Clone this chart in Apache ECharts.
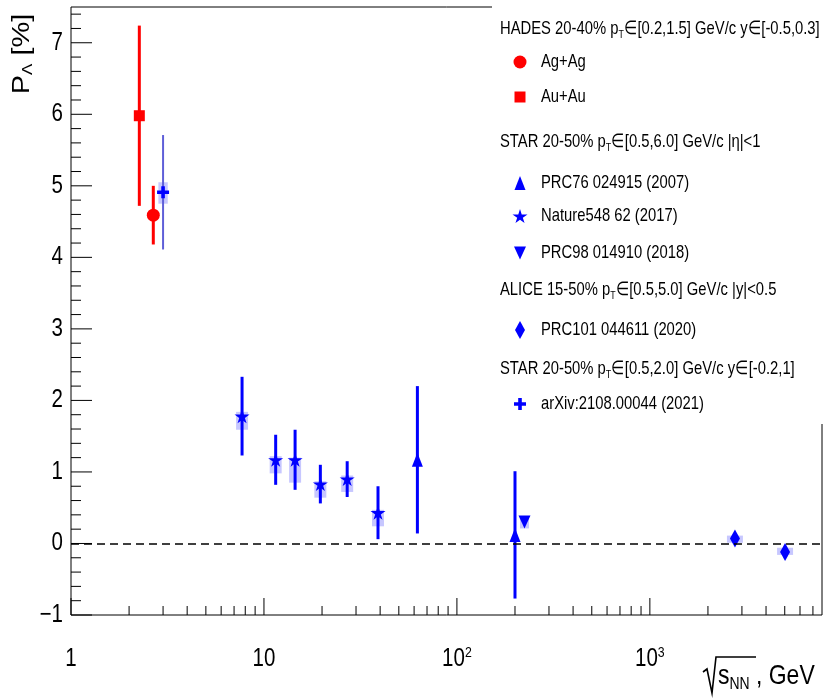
<!DOCTYPE html>
<html><head><meta charset="utf-8">
<script src="https://cdn.jsdelivr.net/npm/echarts@6/dist/echarts.min.js"></script>
<style>html,body{margin:0;padding:0;background:#fff}#c{width:823px;height:698px}</style>
</head><body><div id="c"></div>
<script>
const FONT = "'Liberation Sans',Arial,sans-serif";
const SQ = 0.82;   // horizontal squeeze of the reference typography
const SQL = 0.80;  // legend text squeeze

// ---- data ----
const hadesAgX = [2.67], hadesAgY = [4.59], hadesAgErr = [0.41];
const hadesAuX = [2.26], hadesAuY = [5.98], hadesAuErr = [1.26];
const prc76X = [62.4, 200], prc76Y = [1.17, 0.12], prc76Err = [1.03, 0.89];
const natureX = [7.7, 11.5, 14.5, 19.6, 27, 39];
const natureY = [1.78, 1.17, 1.17, 0.83, 0.90, 0.43];
const natureErr = [0.55, 0.35, 0.42, 0.27, 0.25, 0.37];
const natureSysUp = [0.06, 0.05, 0.03, 0.04, 0.05, 0.04];
const natureSysDown = [0.19, 0.19, 0.32, 0.19, 0.18, 0.19];
const prc98X = [224], prc98Y = [0.30], prc98Err = [0.02], prc98SysUp = [0.08], prc98SysDown = [0.09];
const aliceX = [2760, 5020], aliceY = [0.07, -0.12], aliceErr = [0.02, 0.02];
const aliceSysUp = [0.04, 0.06], aliceSysDown = [0.06, 0.04];
const arxivX = [3.0], arxivY = [4.91], arxivErr = [0.80], arxivSysUp = [0.14], arxivSysDown = [0.16];

// axis ranges / ticks
const X_MIN = 1, X_MAX = 7800, Y_MIN = -1, Y_MAX = 7.5;
const xMajorTicks = [1, 10, 100, 1000];
const xTickLabels = ['1', '10', '10{sup|2}', '10{sup|3}'];
const xMinorTicks = [];
xMajorTicks.forEach(d => { for (let k = 2; k <= 9; k++) { if (d * k < X_MAX) xMinorTicks.push(d * k); } });
const yMajorTicks = [-1, 0, 1, 2, 3, 4, 5, 6, 7];
const yTickLabels = ['\u22121', '0', '1', '2', '3', '4', '5', '6', '7'];
const yMinorTicks = [];
for (let i = 0; i < 43; i++) { const v = +(Y_MIN + i * 0.2).toFixed(1); if (v <= Y_MAX && Math.abs(v - Math.round(v)) > 1e-6) yMinorTicks.push(v); }

// symbol outlines (unit boxes)
const P_STAR = [[50,0],[61,35],[98,35],[68,57],[79,91],[50,70],[21,91],[32,57],[2,35],[39,35]];
const P_PLUS = [[35,0],[65,0],[65,35],[100,35],[100,65],[65,65],[65,100],[35,100],[35,65],[0,65],[0,35],[35,35]];
const P_TRI_UP = [[5,0],[10,10],[0,10]];
const P_TRI_DN = [[0,0],[10,0],[5,10]];
const P_DIAM = [[5,0],[10,10],[5,20],[0,10]];
const P_SQ = [[0,0],[10,0],[10,10],[0,10]];
function toPath(pts) { return 'path://M' + pts.map(p => p.join(',')).join(' L') + ' Z'; }
const BLUE = '#0000ff', RED = '#ff0000', SYS = 'rgba(0,0,255,0.22)';

function zip(xs, ys) { return xs.map((x, i) => [x, ys[i]]); }
function errData(xs, ys, es) { return xs.map((x, i) => [x, ys[i], es[i]]); }
function sysData(xs, ys, up, dn) { return xs.map((x, i) => [x, ys[i], up[i], dn[i]]); }

function errSeries(data, color, width) {
  return {
    type: 'custom', z: 3, data, encode: {x: 0, y: 1}, silent: true,
    renderItem: (p, api) => {
      const x = api.value(0), y = api.value(1), e = api.value(2);
      const a = api.coord([x, y + e]), b = api.coord([x, y - e]);
      return {type: 'line', shape: {x1: a[0], y1: a[1], x2: b[0], y2: b[1]}, style: {stroke: color, lineWidth: width}};
    }
  };
}
function sysSeries(data, halfW) {
  return {
    type: 'custom', z: 2, data, encode: {x: 0, y: 1}, silent: true,
    renderItem: (p, api) => {
      const x = api.value(0), y = api.value(1);
      const a = api.coord([x, y + api.value(2)]), b = api.coord([x, y - api.value(3)]);
      return {type: 'rect', shape: {x: a[0] - halfW, y: a[1], width: 2 * halfW, height: b[1] - a[1]}, style: {fill: SYS}};
    }
  };
}
function tickSeries(vals, axis, len) {
  return {
    type: 'custom', z: 5, silent: true, clip: false,
    data: vals.map(v => axis === 'x' ? [v, Y_MIN] : [X_MIN, v]), encode: {x: 0, y: 1},
    renderItem: (p, api) => {
      const c = api.coord([api.value(0), api.value(1)]);
      const shape = axis === 'x' ? {x1: c[0], y1: c[1], x2: c[0], y2: c[1] - len} : {x1: c[0], y1: c[1], x2: c[0] + len, y2: c[1]};
      return {type: 'line', shape, style: {stroke: '#000', lineWidth: 1}};
    }
  };
}
const supRich = {sup: {fontSize: 15, fontFamily: FONT, verticalAlign: 'top', padding: [0, 0, 12, 0]}};
function labelSeries(vals, labels, axis) {
  return {
    type: 'custom', z: 5, silent: true, clip: false,
    data: vals.map((v, i) => axis === 'x' ? [v, Y_MIN, i] : [X_MIN, v, i]), encode: {x: 0, y: 1},
    renderItem: (p, api) => {
      const c = api.coord([api.value(0), api.value(1)]);
      const t = labels[api.value(2)];
      if (axis === 'x') {
        return {type: 'text', x: c[0], y: c[1] + 44, scaleX: SQ,
          style: {text: t, fontFamily: FONT, fontSize: 25, fill: '#000', align: 'center', verticalAlign: 'middle', rich: supRich}};
      }
      return {type: 'text', x: c[0] - 8, y: c[1], scaleX: SQ,
        style: {text: t, fontFamily: FONT, fontSize: 25, fill: '#000', align: 'right', verticalAlign: 'middle'}};
    }
  };
}
function scatter(data, symbol, size, color) {
  return {type: 'scatter', z: 4, data, symbol, symbolSize: size, itemStyle: {color, opacity: 1}, silent: true};
}

// ---- legend built with graphic elements ----
const LX = 500, MX = 520, TX = 541;
const legendRows = [
  {y: 29, text: 'HADES 20-40% p{sub|T}∈[0.2,1.5] GeV/c y∈[-0.5,0.3]'},
  {y: 62, text: 'Ag+Ag', marker: 'circle', color: RED},
  {y: 97, text: 'Au+Au', marker: P_SQ, w: 11, h: 11, color: RED},
  {y: 142, text: 'STAR 20-50% p{sub|T}∈[0.5,6.0] GeV/c |η|<1'},
  {y: 183, text: 'PRC76 024915 (2007)', marker: P_TRI_UP, w: 11, h: 14, color: BLUE},
  {y: 216, text: 'Nature548 62 (2017)', marker: P_STAR, w: 15, h: 14, color: BLUE},
  {y: 253, text: 'PRC98 014910 (2018)', marker: P_TRI_DN, w: 12, h: 13, color: BLUE},
  {y: 290, text: 'ALICE 15-50% p{sub|T}∈[0.5,5.0] GeV/c |y|<0.5'},
  {y: 330, text: 'PRC101 044611 (2020)', marker: P_DIAM, w: 10, h: 18, color: BLUE},
  {y: 369, text: 'STAR 20-50% p{sub|T}∈[0.5,2.0] GeV/c y∈[-0.2,1]'},
  {y: 404, text: 'arXiv:2108.00044 (2021)', marker: P_PLUS, w: 12, h: 12, color: BLUE}
];
const subRich = {sub: {fontSize: 11, fontFamily: FONT, verticalAlign: 'bottom', padding: [12, 0, 0, 0]}};
function fitPoly(pts, cx, cy, w, h) {
  let x0 = Infinity, x1 = -Infinity, y0 = Infinity, y1 = -Infinity;
  pts.forEach(p => { x0 = Math.min(x0, p[0]); x1 = Math.max(x1, p[0]); y0 = Math.min(y0, p[1]); y1 = Math.max(y1, p[1]); });
  return pts.map(p => [cx - w / 2 + (p[0] - x0) / (x1 - x0) * w, cy - h / 2 + (p[1] - y0) / (y1 - y0) * h]);
}
const graphics = [];
// legend box (white, no border) drawn over the frame corner
graphics.push({type: 'rect', z: 50, shape: {x: 492, y: 0, width: 331, height: 424}, style: {fill: '#fff'}});
legendRows.forEach(r => {
  graphics.push({type: 'text', z: 51, x: r.marker ? TX : LX, y: r.y, scaleX: SQL,
    style: {text: r.text, fontFamily: FONT, fontSize: 18.5, fill: '#000', verticalAlign: 'middle', align: 'left', rich: subRich}});
  if (r.marker === 'circle') {
    graphics.push({type: 'circle', z: 51, shape: {cx: MX, cy: r.y, r: 6.5}, style: {fill: r.color}});
  } else if (r.marker) {
    graphics.push({type: 'polygon', z: 51, shape: {points: fitPoly(r.marker, MX, r.y, r.w, r.h)}, style: {fill: r.color}});
  }
});
// y axis title
graphics.push({type: 'text', x: 22, y: 54, rotation: Math.PI / 2, scaleY: SQ,
  style: {text: 'P{sub|Λ} [%]', fontFamily: FONT, fontSize: 29, fill: '#000', align: 'center', verticalAlign: 'middle',
    rich: {sub: {fontSize: 17, fontFamily: FONT, verticalAlign: 'bottom', padding: [14, 0, 0, 0]}}}});
// x axis title
graphics.push({type: 'polyline', shape: {points: [[703, 672], [707, 669], [712, 693], [716, 657], [756, 657]]}, style: {stroke: '#000', lineWidth: 1.6, fill: 'none'}});
graphics.push({type: 'text', x: 718, y: 676, scaleX: SQ,
  style: {text: 's{sub|NN} , GeV', fontFamily: FONT, fontSize: 28, fill: '#000', align: 'left', verticalAlign: 'middle',
    rich: {sub: {fontSize: 17, fontFamily: FONT, verticalAlign: 'bottom', padding: [16, 0, 0, 0]}}}});

const chart = echarts.init(document.getElementById('c'), null, {renderer: 'canvas'});
chart.setOption({
  backgroundColor: '#fff',
  animation: false,
  grid: {left: 71, right: 1, top: 7, bottom: 83, show: true, borderColor: '#000', borderWidth: 1, containLabel: false, outerBoundsMode: 'none'},
  xAxis: {
    type: 'log', logBase: 10, min: X_MIN, max: X_MAX,
    axisLine: {show: false}, axisTick: {show: false}, splitLine: {show: false}, minorTick: {show: false},
    axisLabel: {show: false}
  },
  yAxis: {
    type: 'value', min: Y_MIN, max: Y_MAX, interval: 1,
    axisLine: {show: false}, axisTick: {show: false}, splitLine: {show: false}, axisLabel: {show: false}
  },
  graphic: graphics,
  series: [
    {type: 'line', data: [], markLine: {silent: true, symbol: 'none', label: {show: false}, data: [{yAxis: 0}], lineStyle: {type: [8, 5], color: '#000', width: 1.5}}},
    tickSeries(xMajorTicks, 'x', 17), tickSeries(xMinorTicks, 'x', 9),
    tickSeries(yMajorTicks, 'y', 21), tickSeries(yMinorTicks, 'y', 10),
    labelSeries(xMajorTicks, xTickLabels, 'x'), labelSeries(yMajorTicks, yTickLabels, 'y'),
    sysSeries(sysData(natureX, natureY, natureSysUp, natureSysDown), 6),
    sysSeries(sysData(prc98X, prc98Y, prc98SysUp, prc98SysDown), 4.5),
    sysSeries(sysData(aliceX, aliceY, aliceSysUp, aliceSysDown), 8),
    sysSeries(sysData(arxivX, arxivY, arxivSysUp, arxivSysDown), 4.7),
    errSeries(errData(hadesAgX, hadesAgY, hadesAgErr), RED, 3),
    errSeries(errData(hadesAuX, hadesAuY, hadesAuErr), RED, 3),
    errSeries(errData(prc76X, prc76Y, prc76Err), BLUE, 3),
    errSeries(errData(natureX, natureY, natureErr), BLUE, 3),
    errSeries(errData(prc98X, prc98Y, prc98Err), BLUE, 3),
    errSeries(errData(aliceX, aliceY, aliceErr), BLUE, 3),
    errSeries(errData(arxivX, arxivY, arxivErr), '#5f5fd8', 2),
    scatter(zip(hadesAgX, hadesAgY), 'circle', 13, RED),
    scatter(zip(hadesAuX, hadesAuY), 'rect', 11, RED),
    scatter(zip(prc76X, prc76Y), toPath(P_TRI_UP), [11, 14], BLUE),
    scatter(zip(natureX, natureY), toPath(P_STAR), [15, 14], BLUE),
    scatter(zip(prc98X, prc98Y), toPath(P_TRI_DN), [12, 13], BLUE),
    scatter(zip(aliceX, aliceY), toPath(P_DIAM), [10, 18], BLUE),
    scatter(zip(arxivX, arxivY), toPath(P_PLUS), 12, BLUE)
  ]
});
</script></body></html>
